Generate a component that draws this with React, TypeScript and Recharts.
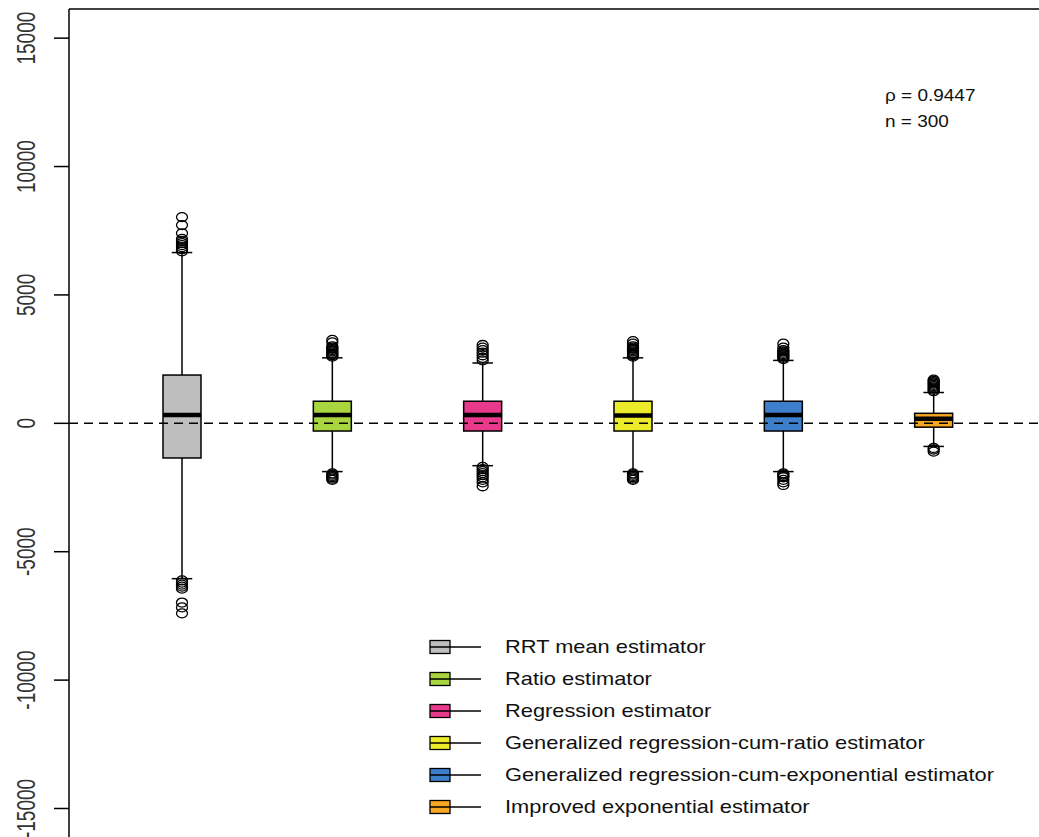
import React from 'react';
import { ComposedChart, Bar, XAxis, YAxis, ReferenceLine } from 'recharts';

const CATEGORIES = [
  'RRT mean estimator',
  'Ratio estimator',
  'Regression estimator',
  'Generalized regression-cum-ratio estimator',
  'Generalized regression-cum-exponential estimator',
  'Improved exponential estimator',
];
const COLORS = ['#BEBEBE', '#A9D53F', '#E8398C', '#EBEB2A', '#3D7FCB', '#F5A623'];

const Q1 = [-1350, -300, -300, -300, -300, -150];
const MEDIAN = [320, 320, 320, 300, 320, 180];
const Q3 = [1880, 860, 860, 860, 860, 390];
const WHISKER_LOW = [-6050, -1880, -1650, -1880, -1880, -900];
const WHISKER_HIGH = [6650, 2550, 2350, 2550, 2450, 1200];
const OUTLIERS_HIGH = [
  [6700, 6780, 6860, 6940, 7020, 7100, 7180, 7400, 7720, 8030],
  [2600, 2650, 2700, 2750, 2800, 2850, 2900, 2950, 3000, 3150, 3250],
  [2450, 2550, 2650, 2750, 2850, 2950, 3050],
  [2600, 2650, 2700, 2750, 2800, 2850, 2900, 2950, 3000, 3100, 3200],
  [2500, 2550, 2600, 2650, 2700, 2750, 2800, 2850, 2950, 3100],
  [1250, 1300, 1350, 1400, 1450, 1500, 1550, 1600, 1650, 1700],
];
const OUTLIERS_LOW = [
  [-6120, -6200, -6280, -6360, -6440, -6980, -7170, -7400],
  [-1950, -2000, -2050, -2100, -2150, -2200],
  [-1700, -1780, -1860, -1940, -2020, -2100, -2200, -2300, -2450],
  [-1950, -2000, -2050, -2100, -2150, -2200],
  [-1950, -2000, -2050, -2100, -2200, -2300, -2400],
  [-960, -1020, -1100],
];

const Y_DOMAIN = [-16110, 16135];
const Y_TICKS = [-15000, -10000, -5000, 0, 5000, 10000, 15000];

const FONT = "'Liberation Sans', Arial, sans-serif";

const rows = CATEGORIES.map((name, i) => ({
  name,
  color: COLORS[i],
  q1: Q1[i],
  median: MEDIAN[i],
  q3: Q3[i],
  lo: WHISKER_LOW[i],
  hi: WHISKER_HIGH[i],
  outHigh: OUTLIERS_HIGH[i],
  outLow: OUTLIERS_LOW[i],
  range: [WHISKER_LOW[i], WHISKER_HIGH[i]],
}));

// draws the whole box from the whisker range bar that recharts scaled for us
const BoxShape = (props: any) => {
  const { x, y, width, height, payload } = props;
  const top = Math.min(y, y + height);
  const bottom = Math.max(y, y + height);
  const toY = (v: number) => top + ((payload.hi - v) / (payload.hi - payload.lo)) * (bottom - top);
  const cx = x + width / 2;
  const cap = width * 0.27;
  return (
    <g>
      <line x1={cx} x2={cx} y1={toY(payload.hi)} y2={toY(payload.q3)} stroke="#000" strokeWidth={1.5} />
      <line x1={cx} x2={cx} y1={toY(payload.q1)} y2={toY(payload.lo)} stroke="#000" strokeWidth={1.5} />
      <line x1={cx - cap} x2={cx + cap} y1={toY(payload.hi)} y2={toY(payload.hi)} stroke="#000" strokeWidth={1.5} />
      <line x1={cx - cap} x2={cx + cap} y1={toY(payload.lo)} y2={toY(payload.lo)} stroke="#000" strokeWidth={1.5} />
      <rect
        x={x}
        y={toY(payload.q3)}
        width={width}
        height={toY(payload.q1) - toY(payload.q3)}
        fill={payload.color}
        stroke="#000"
        strokeWidth={1.5}
      />
      <line x1={x} x2={x + width} y1={toY(payload.median)} y2={toY(payload.median)} stroke="#000" strokeWidth={4.5} />
      {[...payload.outHigh, ...payload.outLow].map((v: number, k: number) => (
        <ellipse key={k} cx={cx} cy={toY(v)} rx={5.5} ry={4.5} fill="none" stroke="#000" strokeWidth={1.3} />
      ))}
    </g>
  );
};

const YTick = (props: any) => {
  const { y, payload } = props;
  const bx = 35;
  return (
    <text
      transform={`translate(${bx} ${y}) scale(1.4 1) rotate(-90)`}
      textAnchor="middle"
      fontSize={19}
      fill="#333"
      fontFamily={FONT}
    >
      {payload.value}
    </text>
  );
};

const Stretch = ({ children, k }: { children: React.ReactNode; k: number }) => (
  <span style={{ display: 'inline-block', transform: `scaleX(${k})`, transformOrigin: 'left center', whiteSpace: 'nowrap' }}>
    {children}
  </span>
);

export default function App() {
  return (
    <div
      style={{
        position: 'fixed',
        left: 0,
        top: 0,
        width: 1039,
        height: 837,
        overflow: 'hidden',
        background: '#fff',
      }}
    >
      <ComposedChart width={1039} height={837} data={rows} margin={{ top: 9, right: 0, bottom: 0, left: 0 }}>
        <XAxis dataKey="name" hide padding={{ left: 38, right: 30 }} />
        <YAxis
          width={69}
          domain={Y_DOMAIN}
          ticks={Y_TICKS}
          allowDataOverflow
          axisLine={{ stroke: '#000', strokeWidth: 1.5 }}
          tickLine={{ stroke: '#000', strokeWidth: 1.5 }}
          tickSize={15}
          tick={<YTick />}
          interval={0}
        />
        <Bar dataKey="range" barSize={38} shape={<BoxShape />} isAnimationActive={false} />
        <ReferenceLine y={0} stroke="#000" strokeWidth={1.5} strokeDasharray="9 6" />
        <ReferenceLine y={Y_DOMAIN[1]} stroke="#000" strokeWidth={1.5} />
      </ComposedChart>

      {/* legend, drawn in the lower middle of the plot as in the original */}
      <div style={{ position: 'absolute', left: 428, top: 631, fontFamily: FONT, fontSize: 18.5, color: '#111' }}>
        {CATEGORIES.map((name, i) => (
          <div key={name} style={{ display: 'flex', alignItems: 'center', height: 32 }}>
            <svg width={77} height={20} style={{ flexShrink: 0 }}>
              <rect x={2} y={3.5} width={20} height={13} fill={COLORS[i]} stroke="#000" strokeWidth={1.3} />
              <line x1={2} x2={53} y1={10} y2={10} stroke="#000" strokeWidth={1.3} />
            </svg>
            <Stretch k={1.18}>{name}</Stretch>
          </div>
        ))}
      </div>

      <div
        style={{
          position: 'absolute',
          left: 885,
          top: 82,
          fontFamily: FONT,
          fontSize: 16.5,
          lineHeight: '26px',
          color: '#111',
        }}
      >
        <div><Stretch k={1.15}>ρ = 0.9447</Stretch></div>
        <div><Stretch k={1.15}>n = 300</Stretch></div>
      </div>
    </div>
  );
}
